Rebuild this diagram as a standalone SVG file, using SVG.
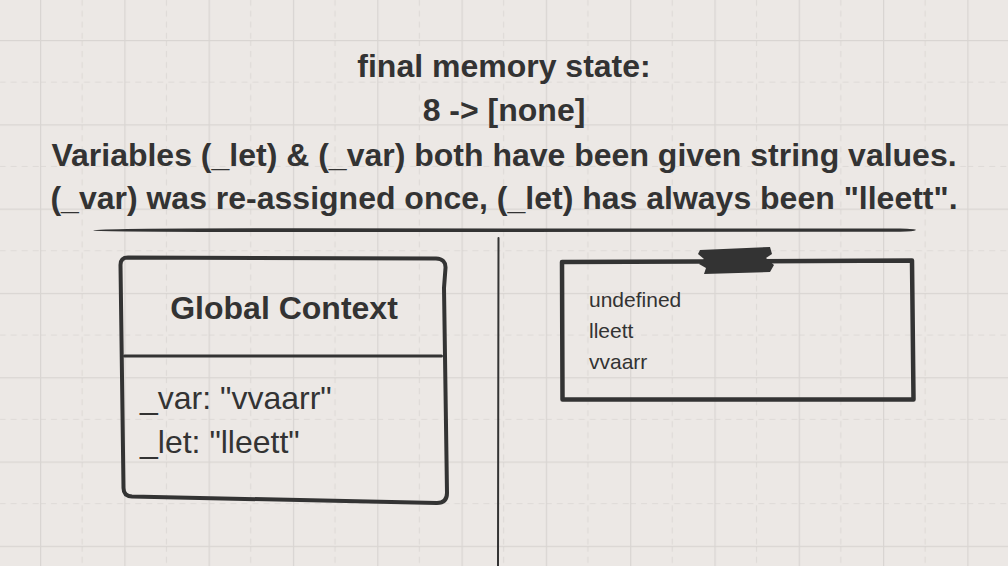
<svg xmlns="http://www.w3.org/2000/svg" width="1008" height="566" viewBox="0 0 1008 566">
<defs>
<pattern id="grid" x="40" y="40" width="84.3" height="84.3" patternUnits="userSpaceOnUse">
<path d="M0 42.15H84.3M42.15 0V84.3" stroke="#dedad7" stroke-width="1.2" stroke-dasharray="6 5" fill="none"/>
<path d="M0 0.5H84.3M0.5 0V84.3" stroke="#d9d5d2" stroke-width="1.5" fill="none"/>
</pattern>
<style>
.t{font-family:"Liberation Sans",Arial,sans-serif;fill:#333}
.b{font-weight:bold}
.ln{stroke:#333;fill:none;stroke-linecap:round;stroke-linejoin:round}
</style>
</defs>
<rect width="1008" height="566" fill="#ece8e5"/>
<rect width="1008" height="566" fill="url(#grid)"/>
<g id="title">
<text class="t b" x="504" y="77" font-size="32" text-anchor="middle">final memory state:</text>
<text class="t b" x="504" y="121" font-size="32" text-anchor="middle">8 -&gt; [none]</text>
<text class="t b" x="504" y="166" font-size="32" text-anchor="middle">Variables (_let) &amp; (_var) both have been given string values.</text>
<text class="t b" x="504" y="209" font-size="32" text-anchor="middle">(_var) was re-assigned once, (_let) has always been "lleett".</text>
<path d="M93 230.5 Q100 228 300 228.3 L900 228.6 Q916 229 916 230 Q914 231.5 900 231.8 L300 232 Q100 232 93 230.5Z" fill="#333"/>
</g>
<g id="divider">
<path class="ln" d="M498.5 238 L498 566" stroke-width="2"/>
</g>
<g id="global-context">
<path class="ln" d="M128 257.5 L436 258.5 Q446 259 445.5 268 L444 288 L447 493 Q447 503 437 503 L132 496.5 Q123.5 496 123.5 488 L120.5 265 Q120.5 257.5 128 257.5Z" stroke-width="4"/>
<path class="ln" d="M124.5 356 L441.5 356" stroke-width="3" stroke-linecap="butt"/>
<text class="t b" x="284" y="319" font-size="32" text-anchor="middle">Global Context</text>
<text class="t" x="140" y="409" font-size="32">_var: "vvaarr"</text>
<text class="t" x="140" y="453" font-size="32">_let: "lleett"</text>
</g>
<g id="memory">
<path class="ln" d="M562 262 L912 260.5 L913.5 399.5 L562.5 399.5Z" stroke-width="4.5" stroke-linecap="butt" stroke-linejoin="miter"/>
<path d="M700 250 L770 247 L772 254 L766 258 L774 265 L770 272 L704 274 L706 268 L699 264 L704 259 L698 254Z" fill="#333"/>
<text class="t" x="589" y="307" font-size="21">undefined</text>
<text class="t" x="589" y="338" font-size="21">lleett</text>
<text class="t" x="589" y="369" font-size="21">vvaarr</text>
</g>
</svg>
